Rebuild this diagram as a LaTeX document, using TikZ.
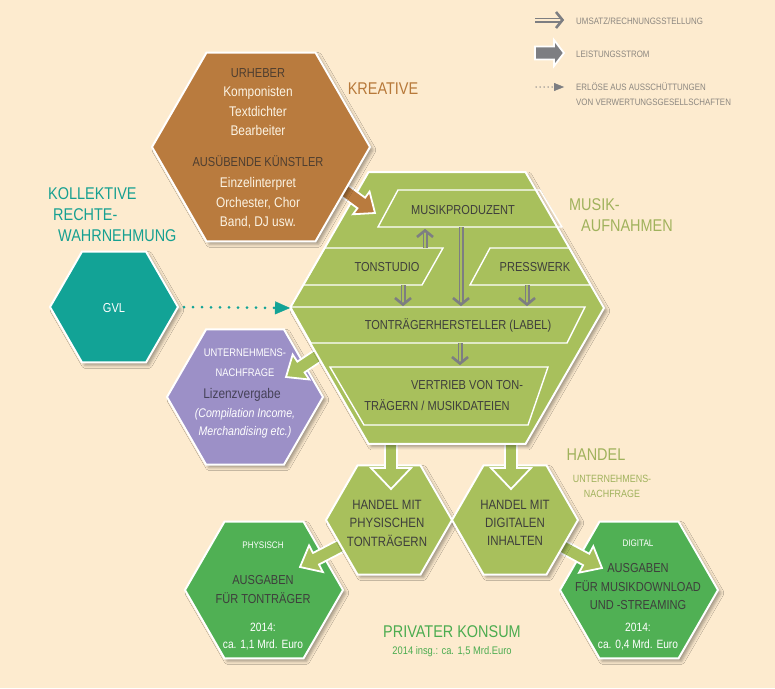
\documentclass[tikz,border=0pt]{standalone}
\usepackage{fontspec}
\setmainfont[FakeStretch=0.85]{Liberation Sans}
\usetikzlibrary{shapes.geometric,calc,arrows.meta,shadows.blur}
\definecolor{bgc}{RGB}{253,235,207}
\definecolor{brownc}{RGB}{185,123,62}
\definecolor{greenc}{RGB}{168,192,92}
\definecolor{tealc}{RGB}{18,163,150}
\definecolor{purplec}{RGB}{156,144,199}
\definecolor{dgreenc}{RGB}{80,176,84}
\definecolor{arrgray}{RGB}{125,126,130}
\definecolor{txtdark}{RGB}{62,62,60}
\definecolor{brownhead}{RGB}{78,62,48}
\definecolor{creamtxt}{RGB}{252,244,228}
\definecolor{lblbrown}{RGB}{183,121,58}
\definecolor{lblgreen}{RGB}{160,178,92}
\definecolor{lblteal}{RGB}{22,160,145}
\definecolor{konsumgreen}{RGB}{76,172,80}
\definecolor{legendgray}{RGB}{140,135,128}
\newcommand\myfs[1]{\fontsize{#1}{#1}\selectfont}
\newcommand\barrow[6]{%
  \filldraw[fill=#1, draw=white, line width=1.8pt, line join=miter]
  ($(#2)!#4pt!90:(#3)$) -- ($(#3)!#6pt!(#2)!#4pt!90:(#3)$) --
  ($(#3)!#6pt!(#2)!#5pt!90:(#3)$) -- (#3) --
  ($(#3)!#6pt!(#2)!#5pt!-90:(#3)$) -- ($(#3)!#6pt!(#2)!#4pt!-90:(#3)$) --
  ($(#2)!#4pt!-90:(#3)$) -- cycle;}
\newcommand\darrow[3]{%
  \draw[arrgray, line width=1.6pt, double=#1, double distance=1.8pt] (#2) -- ($(#3)!3pt!(#2)$);
  \draw[arrgray, line width=2.6pt, line join=miter]
  ($(#3)!8pt!(#2)!8pt!90:(#3)$) -- ($(#3)!1.5pt!(#2)$) -- ($(#3)!8pt!(#2)!8pt!-90:(#3)$);}
\tikzset{
  hexa/.style={regular polygon, regular polygon sides=6, draw=white, line width=2pt,
    inner sep=0pt, outer sep=0pt,
    blur shadow={shadow xshift=3pt, shadow yshift=-3pt, shadow blur radius=3pt, shadow opacity=35}},
  band/.style={draw=white, line width=1.4pt, line join=miter},
  tx/.style={inner sep=0pt, text=txtdark, font=\myfs{13}},
  big/.style={inner sep=0pt, font=\myfs{17}},
  small/.style={inner sep=0pt, text=white, font=\myfs{11}},
  cream/.style={inner sep=0pt, text=creamtxt, font=\myfs{14}},
  legend/.style={inner sep=0pt, anchor=west, text=legendgray, font=\myfs{9.3}},
}
\begin{document}
\begin{tikzpicture}[x=1pt, y=-1pt]
\useasboundingbox (0,0) rectangle (775,688);
\fill[bgc] (0,0) rectangle (775,688);

% ---------- coordinates ----------
\coordinate (cKre) at (261,147);
\coordinate (cGvl) at (114,307);
\coordinate (cBig) at (447,308);
\coordinate (cPur) at (245,397);
\coordinate (cHp) at (389,520);
\coordinate (cHd) at (515,520);
\coordinate (cKp) at (264,590);
\coordinate (cKd) at (639,590);

% ---------- consumer hexagons ----------
\node[hexa, fill=dgreenc, minimum size=158pt] (kp) at (cKp) {};
\node[hexa, fill=dgreenc, minimum size=158pt] (kd) at (cKd) {};

% arrows Handel -> consumer
\coordinate (hpS) at (352,540); \coordinate (hpT) at (300,567);
\coordinate (hdS) at (552,541); \coordinate (hdT) at (602,568);
\barrow{greenc}{hpS}{hpT}{6.5}{15}{18}
\barrow{greenc}{hdS}{hdT}{6.5}{15}{18}

% ---------- Handel hexagons ----------
\node[hexa, fill=greenc, minimum size=126pt] (hp) at (cHp) {};
\node[hexa, fill=greenc, minimum size=126pt] (hd) at (cHd) {};

% down arrows big -> Handel
\coordinate (d1S) at (391,436); \coordinate (d1T) at (391,489);
\coordinate (d2S) at (511,436); \coordinate (d2T) at (511,489);
\barrow{greenc}{d1S}{d1T}{6}{20}{21}
\barrow{greenc}{d2S}{d2T}{6}{20}{21}

% ---------- purple hexagon ----------
\node[hexa, fill=purplec, minimum size=156pt] (pur) at (cPur) {};
\coordinate (puS) at (325,351); \coordinate (puT) at (286,377);
\barrow{greenc}{puS}{puT}{6.5}{15}{18}

% ---------- big green hexagon ----------
\node[hexa, fill=greenc, minimum size=314pt] (bigh) at (cBig) {};
\draw[band] (398,190) -- (540,190) -- (562,227) -- (378,227) -- cycle;
\draw[band] (324.6,248) -- (443,248) -- (422,285) -- (303.2,285) -- cycle;
\draw[band] (490,248) -- (569.4,248) -- (590.8,285) -- (470,285) -- cycle;
\draw[band] (290.6,307) -- (585,307) -- (567,343) -- (311,343) -- cycle;
\draw[band] (330,367) -- (548,367) -- (528,425) -- (364,425) -- cycle;

% gray double arrows inside
\coordinate (a1S) at (425,248); \coordinate (a1T) at (425,229);
\coordinate (a2S) at (461,227); \coordinate (a2T) at (461,306);
\coordinate (a3S) at (403,285); \coordinate (a3T) at (403,306);
\coordinate (a4S) at (527,285); \coordinate (a4T) at (527,306);
\coordinate (a5S) at (460,343); \coordinate (a5T) at (460,365);
\darrow{greenc}{a1S}{a1T}
\darrow{greenc}{a2S}{a2T}
\darrow{greenc}{a3S}{a3T}
\darrow{greenc}{a4S}{a4T}
\darrow{greenc}{a5S}{a5T}

% brown arrow
\coordinate (brS) at (334,183); \coordinate (brT) at (375,213);
\barrow{brownc}{brS}{brT}{6.5}{14}{17}

% ---------- brown hexagon ----------
\node[hexa, fill=brownc, minimum size=218pt] (kre) at (cKre) {};

% ---------- teal hexagon ----------
\node[hexa, fill=tealc, minimum size=128pt] (gvl) at (cGvl) {};
\coordinate (gvlR) at (184,307); \coordinate (bigL) at (290,308);
\draw[tealc, line width=3pt, line cap=round, dash pattern=on 0pt off 9pt,
  -{Triangle[length=15pt,width=13pt,line width=0.4pt]}] (gvlR) -- (bigL);

% ---------- texts: brown ----------
\node[tx, text=brownhead] (tUrh) at (258,73) {URHEBER};
\node[cream] (tKom) at (258,93) {Komponisten};
\node[cream] (tTex) at (258,111) {Textdichter};
\node[cream] (tBea) at (258,130) {Bearbeiter};
\node[tx, text=brownhead] (tAus) at (258,161) {AUSÜBENDE KÜNSTLER};
\node[cream] (tEin) at (258,184) {Einzelinterpret};
\node[cream] (tOrc) at (258,203) {Orchester, Chor};
\node[cream] (tBan) at (258,222) {Band, DJ usw.};
\node[big, text=lblbrown] (lKre) at (383,89) {KREATIVE};

% teal
\node[big, text=lblteal, anchor=west] (lKol1) at (48,194) {KOLLEKTIVE};
\node[big, text=lblteal, anchor=west] (lKol2) at (53,215) {RECHTE-};
\node[big, text=lblteal, anchor=west] (lKol3) at (58,236) {WAHRNEHMUNG};
\node[tx, text=white] (tGvl) at (114,308) {GVL};

% big green
\node[big, text=lblgreen, anchor=west] (lMus1) at (569,205) {MUSIK-};
\node[big, text=lblgreen, anchor=west] (lMus2) at (581,226) {AUFNAHMEN};
\node[tx] (tPro) at (463,210) {MUSIKPRODUZENT};
\node[tx] (tTon) at (387,267) {TONSTUDIO};
\node[tx] (tPre) at (535,267) {PRESSWERK};
\node[tx] (tLab) at (458,325) {TONTRÄGERHERSTELLER (LABEL)};
\node[tx] (tVer1) at (467,385) {VERTRIEB VON TON-};
\node[tx] (tVer2) at (437,405) {TRÄGERN / MUSIKDATEIEN};

% purple
\node[small] (tPu1) at (245,353) {UNTERNEHMENS-};
\node[small] (tPu2) at (245,373) {NACHFRAGE};
\node[tx, font=\myfs{14}, text={rgb,255:red,70;green,66;blue,88}] (tPu3) at (242,395) {Lizenzvergabe};
\node[small, font=\itshape\myfs{12.5}] (tPu4) at (245,414) {(Compilation Income,};
\node[small, font=\itshape\myfs{12.5}] (tPu5) at (245,432) {Merchandising etc.)};

% Handel
\node[tx, font=\myfs{13.5}] (tHp1) at (387,505) {HANDEL MIT};
\node[tx, font=\myfs{13.5}] (tHp2) at (387,523) {PHYSISCHEN};
\node[tx, font=\myfs{13.5}] (tHp3) at (387,541) {TONTRÄGERN};
\node[tx, font=\myfs{13.5}] (tHd1) at (515,505) {HANDEL MIT};
\node[tx, font=\myfs{13.5}] (tHd2) at (515,523) {DIGITALEN};
\node[tx, font=\myfs{13.5}] (tHd3) at (515,541) {INHALTEN};
\node[big, text=lblgreen] (lHan) at (596,455) {HANDEL};
\node[small, text=lblgreen, font=\myfs{10.5}] (lHan2) at (612,479) {UNTERNEHMENS-};
\node[small, text=lblgreen, font=\myfs{10.5}] (lHan3) at (612,494) {NACHFRAGE};

% consumer physical
\node[small, font=\myfs{9.5}] (tKp1) at (263,545) {PHYSISCH};
\node[tx] (tKp2) at (263,580) {AUSGABEN};
\node[tx] (tKp3) at (263,598) {FÜR TONTRÄGER};
\node[small, font=\myfs{12}] (tKp4) at (263,627) {2014:};
\node[small, font=\myfs{12}] (tKp5) at (263,645) {ca. 1,1 Mrd. Euro};
% consumer digital
\node[small, font=\myfs{9.5}] (tKd1) at (638,543) {DIGITAL};
\node[tx] (tKd2) at (638,568) {AUSGABEN};
\node[tx] (tKd3) at (638,586) {FÜR MUSIKDOWNLOAD};
\node[tx] (tKd4) at (638,605) {UND -STREAMING};
\node[small, font=\myfs{12}] (tKd5) at (638,627) {2014:};
\node[small, font=\myfs{12}] (tKd6) at (638,645) {ca. 0,4 Mrd. Euro};

\node[big, text=konsumgreen] (lKon) at (452,632) {PRIVATER KONSUM};
\node[small, text=konsumgreen, font=\myfs{11}] (lKon2) at (452,652) {2014 insg.: ca. 1,5 Mrd.Euro};

% ---------- legend ----------
\coordinate (lg1a) at (535,20); \coordinate (lg1b) at (564,20);
\darrow{bgc}{lg1a}{lg1b}
\node[legend] (lgt1) at (576,21) {UMSATZ/RECHNUNGSSTELLUNG};
\coordinate (lg2a) at (535,53); \coordinate (lg2b) at (564,53);
\barrow{arrgray}{lg2a}{lg2b}{6.5}{13}{10}
\node[legend] (lgt2) at (576,54) {LEISTUNGSSTROM};
\coordinate (lg3a) at (536,87); \coordinate (lg3b) at (564,87);
\draw[arrgray, line width=1.5pt, line cap=round, dash pattern=on 0pt off 4pt,
  -{Triangle[length=10pt,width=8pt,line width=0.3pt]}] (lg3a) -- (lg3b);
\node[legend] (lgt3) at (576,87) {ERLÖSE AUS AUSSCHÜTTUNGEN};
\node[legend] (lgt4) at (576,102) {VON VERWERTUNGSGESELLSCHAFTEN};
\end{tikzpicture}
\end{document}
